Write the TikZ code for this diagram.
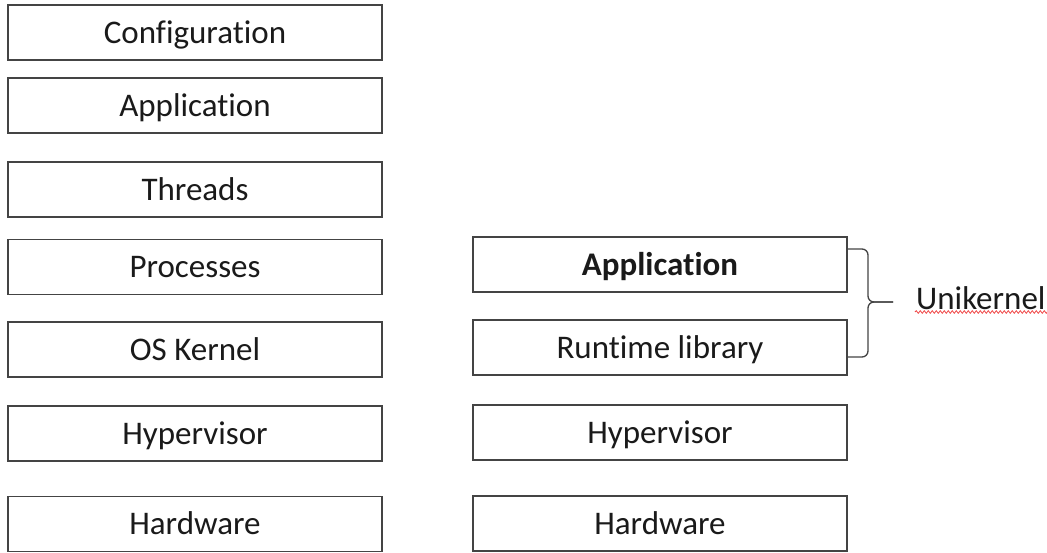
\documentclass[tikz,border=0pt]{standalone}
\usepackage{fontspec}
\setmainfont[Ligatures=NoCommon]{Carlito}
\usetikzlibrary{decorations.pathmorphing}
\definecolor{edgegray}{HTML}{444444}
\definecolor{inkblack}{HTML}{1A1A1A}
\definecolor{spellred}{HTML}{F04848}
\begin{document}
\begin{tikzpicture}[x=1pt,y=-1pt,
  layer/.style={draw=edgegray, line width=1.5pt, rectangle, inner sep=0pt,
    minimum width=374pt, minimum height=55pt, text=inkblack,
    font=\fontsize{33}{38}\selectfont, text height=21pt, text depth=0pt},
  bracket/.style={draw=edgegray, line width=1.3pt, rounded corners=6pt},
  lbl/.style={text=inkblack, font=\fontsize{33}{38}\selectfont,
    text height=21pt, text depth=0pt, inner sep=0pt}]
  \useasboundingbox (0,0) rectangle (1047,552);
  \fill[white] (0,0) rectangle (1047,552);

  % conventional stack
  \node[layer] (config) at (195,32.5)  {Configuration};
  \node[layer] (appL)   at (195,105.5) {Application};
  \node[layer] (thr)    at (195,189.5) {Threads};
  \node[layer] (proc)   at (195,267)   {Processes};
  \node[layer] (kern)   at (195,349.5) {OS Kernel};
  \node[layer] (hypL)   at (195,433.5) {Hypervisor};
  \node[layer] (hwL)    at (195,524)   {Hardware};

  % unikernel stack
  \node[layer] (appR)   at (660,264.5) {\bfseries Application};
  \node[layer] (rt)     at (660,347.5) {Runtime library};
  \node[layer] (hypR)   at (660,432.5) {Hypervisor};
  \node[layer] (hwR)    at (660,523.5) {Hardware};

  % brace grouping the two upper layers
  \coordinate (btop) at (appR.east |- 0,249);
  \coordinate (bbot) at (rt.east |- 0,357);
  \coordinate (bmid) at (868,302);
  \coordinate (btip) at (893,302);
  \draw[bracket] (btop) -- (868,249) -- (bmid) -- (btip);
  \draw[bracket] (bbot) -- (868,357) -- (bmid) -- (btip);

  \node[lbl, anchor=west] (uni) at (916,299) {Unikernel};
  \coordinate (sqa) at (915,312);
  \coordinate (sqb) at (1050,312);
  \draw[spellred, line width=0.8pt,
    decorate, decoration={snake, amplitude=1.3pt, segment length=4pt}]
    (sqa) -- (sqb);
\end{tikzpicture}
\end{document}
